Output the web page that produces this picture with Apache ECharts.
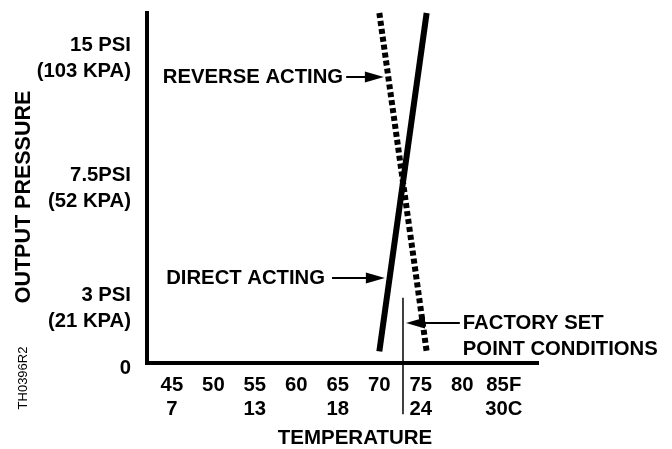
<!DOCTYPE html>
<html><head><meta charset="utf-8">
<script src="https://cdn.jsdelivr.net/npm/echarts@6/dist/echarts.min.js"></script>
<style>html,body{margin:0;padding:0;background:#fff}#c{width:672px;height:449px}</style>
</head><body><div id="c"></div>
<script>
// ---- data ----
const tempF = [45, 50, 55, 60, 65, 70, 75, 80, 85];
const tempFLabels = ['45', '50', '55', '60', '65', '70', '75', '80', '85F'];
const tempCLabels = ['7', '', '13', '', '18', '', '24', '', '30C'];
const pressureTicks = [0, 3, 7.5, 15];
const pressurePsiLabels = ['0', '3 PSI', '7.5PSI', '15 PSI'];
const pressureKpaLabels = ['', '(21 KPA)', '(52 KPA)', '(103 KPA)'];
const directActing = [[70, 0.5], [75.7, 15]];
const reverseActing = [[70, 15], [75.7, 0.5]];
const factorySetPoint = 72.85;
const setPointSpan = [2.8, -2.2];
const annotationTexts = ['REVERSE ACTING', 'DIRECT ACTING', 'FACTORY SET\nPOINT CONDITIONS'];
const annotationLevels = [12.26, 3.64, 1.71];
const annotationFrom = [66.0, 64.3, 79.7];
const annotationTo = [69.4, 69.52, 74.36];

// ---- layout / style ----
const FONT = "'Liberation Sans', Arial, sans-serif";
const labelShift = [10, 30, 0, 90]; // spacer heights to place y labels as in reference

const chart = echarts.init(document.getElementById('c'), null, {renderer: 'canvas'});

const richY = {t: {fontSize: 20.3, fontWeight: 'bold', fontFamily: FONT, color: '#000', lineHeight: 26, align: 'right'}};
labelShift.forEach(h => { richY['s' + h] = {fontSize: 2, lineHeight: h, height: h}; });

const option = {
  animation: false,
  backgroundColor: '#fff',
  grid: {left: 147, right: 135, top: 13, bottom: 86, containLabel: false, outerBoundsMode: 'none'},
  xAxis: {
    type: 'value', min: 42, max: 89,
    name: 'TEMPERATURE', nameLocation: 'middle', nameGap: 65, nameMoveOverlap: false,
    nameTextStyle: {fontSize: 20.5, fontWeight: 'bold', fontFamily: FONT, color: '#000', padding: [0, 0, 0, 26]},
    axisLine: {show: true, onZero: true, lineStyle: {color: '#000', width: 4, cap: 'square'}},
    axisTick: {show: false},
    splitLine: {show: false},
    axisLabel: {
      customValues: tempF, margin: 10,
      fontSize: 20.3, fontWeight: 'bold', fontFamily: FONT, color: '#000', lineHeight: 24,
      formatter: function (v) {
        const i = tempF.indexOf(v);
        if (i < 0) return '';
        return tempFLabels[i] + (tempCLabels[i] ? '\n' + tempCLabels[i] : '');
      }
    }
  },
  yAxis: {
    type: 'value', min: 0, max: 15,
    name: 'OUTPUT PRESSURE', nameLocation: 'middle', nameGap: 112, nameMoveOverlap: false,
    nameTextStyle: {fontSize: 21.5, fontWeight: 'bold', fontFamily: FONT, color: '#000', padding: [0, 18, 0, 0]},
    axisLine: {show: true, lineStyle: {color: '#000', width: 4, cap: 'square'}},
    axisTick: {show: false},
    splitLine: {show: false},
    axisLabel: {
      customValues: pressureTicks, margin: 16, align: 'right',
      rich: richY,
      formatter: function (v) {
        const i = pressureTicks.indexOf(v);
        if (i < 0) return '';
        let s = '';
        if (labelShift[i]) s += '{s' + labelShift[i] + '| }\n';
        s += '{t|' + pressurePsiLabels[i] + '}';
        if (pressureKpaLabels[i]) s += '\n{t|' + pressureKpaLabels[i] + '}';
        return s;
      }
    }
  },
  graphic: [{
    type: 'text', x: 23, y: 378, rotation: Math.PI / 2,
    style: {text: 'TH0396R2', fontSize: 13, fontFamily: FONT, fill: '#000', align: 'center', verticalAlign: 'middle'}
  }],
  series: [
    {
      name: 'Direct acting', type: 'line', data: directActing, clip: false,
      showSymbol: false, silent: true,
      lineStyle: {color: '#000', width: 6, type: 'solid'}
    },
    {
      name: 'Reverse acting', type: 'line', data: reverseActing, clip: false,
      showSymbol: false, silent: true,
      lineStyle: {color: '#000', width: 6, type: [5, 3]},
      markLine: {
        silent: true, animation: false,
        symbol: ['none', 'triangle'], symbolSize: [11, 19],
        lineStyle: {color: '#000', width: 2, type: 'solid'},
        label: {show: true, position: 'start', distance: 3, color: '#000', fontSize: 20.3, fontWeight: 'bold', fontFamily: FONT, lineHeight: 26,
                rich: {sp: {lineHeight: 26, fontSize: 2}}},
        data: annotationTexts.map(function (t, i) {
          const txt = t.indexOf('\n') >= 0 ? '{sp| }\n' + t : t;
          return [
            {coord: [annotationFrom[i], annotationLevels[i]], label: {formatter: txt, distance: i === 1 ? 7 : 3}},
            {coord: [annotationTo[i], annotationLevels[i]]}
          ];
        })
      }
    },
    {
      name: 'Factory set point', type: 'line', clip: false,
      data: [[factorySetPoint, setPointSpan[0]], [factorySetPoint, setPointSpan[1]]],
      showSymbol: false, silent: true,
      lineStyle: {color: '#000', width: 1.5}
    }
  ]
};
chart.setOption(option);
</script>
</body></html>
